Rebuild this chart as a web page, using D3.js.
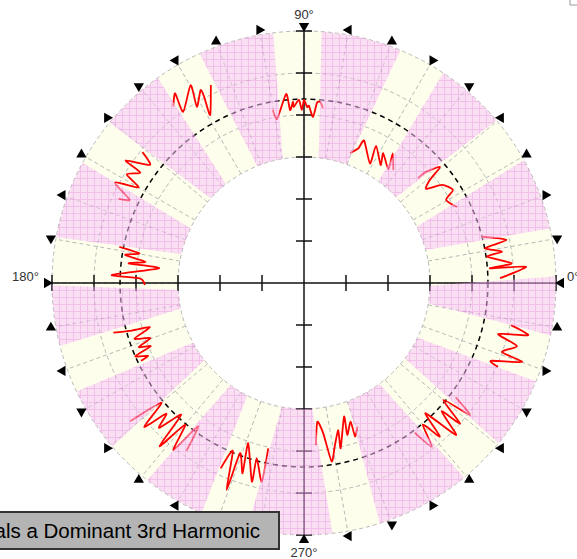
<!DOCTYPE html>
<html>
<head>
<meta charset="utf-8">
<script src="https://cdn.jsdelivr.net/npm/d3@7"></script>
<style>
  html, body { margin: 0; padding: 0; background: #fff; overflow: hidden; }
  svg { display: block; font-family: Arial, "Liberation Sans", sans-serif; }
</style>
</head>
<body>
<svg id="chart" width="577" height="559"></svg>
<script>
// radial axis in chart units (one tick = 1 unit)
const radialTicks = [1, 2, 3, 4, 5, 6];
const ringInner = 3;
const ringOuter = 6;
const gridCircles = [3, 4, 5, 6];
const refRadius = 4.38;
const spokeAngles = d3.range(0, 360, 10);
const axisAngles = [0, 90, 180, 270];
const axisLabels = ['0°', '90°', '180°', '270°'];

// centre angle (deg, counter-clockwise from 0°) of each light strip
const stripCenters = [91.5, 62, 34.7, 7, -17.5, -45, -78, -108.5, -134, -160, 175, 146, 120];

// traces: [angle in deg, radius in units]
const trace0 = [[100.2,4.19],[99.3,3.96],[95.4,4.52],[94.6,4.13],[93.5,4.32],[93.3,4.20],[91.6,4.36],[90.7,4.12],[90.0,4.36],[89.0,4.19],[88.4,4.22],[86.9,3.96],[85.9,4.30],[84.9,4.33],[83.8,4.19]];
const trace1 = [[70.5,3.28],[68.0,3.46],[67.1,3.68],[61.1,3.25],[62.3,3.69],[57.0,3.35],[58.6,3.62],[53.4,3.37],[55.6,3.74],[51.7,3.43]];
const trace2 = [[42.6,3.69],[42.3,3.93],[40.5,4.26],[39.3,3.87],[37.6,3.67],[35.4,4.03],[32.0,4.18],[30.3,3.92],[26.4,4.07]];
const trace3 = [[14.6,4.37],[12.0,4.93],[10.9,4.39],[9.0,4.77],[8.2,4.41],[5.4,4.97],[4.5,4.44],[4.2,5.30],[1.4,4.67]];
const trace4 = [[-11.5,5.03],[-13.1,5.48],[-14.7,4.78],[-16.5,5.29],[-19.2,4.99],[-19.9,5.52],[-22.6,4.82],[-23.4,5.03]];
const trace5 = [[-37,4.52],[-38.5,5.05],[-40,4.33],[-42,5.0],[-43,4.48],[-45,5.12],[-47,4.24],[-48.5,4.88],[-50,4.40],[-52,4.95],[-53.5,4.43]];
const trace6 = [[-85.8,3.87],[-84.5,3.32],[-82.7,3.61],[-81.2,4.30],[-79.2,3.93],[-76.9,3.60],[-77.5,4.03],[-73.3,3.32],[-74.1,3.76],[-71.4,3.48],[-71.6,3.85],[-69.6,3.65]];
const trace7 = [[-114.2,4.84],[-113.0,4.34],[-110.5,5.26],[-110.6,4.33],[-107.9,4.76],[-109.2,4.04],[-104.7,4.89],[-105.1,4.32],[-102.0,4.84],[-102.2,4.03]];
const trace8 = [[-125,4.88],[-126.5,4.24],[-128,5.05],[-130,4.40],[-131.5,5.19],[-133,4.29],[-135,4.88],[-136.5,4.52],[-138,5.12],[-140,4.43],[-141.5,5.29]];
const trace9 = [[-165.4,4.69],[-164.6,4.30],[-164.0,3.81],[-161.8,4.25],[-160.3,3.88],[-158.8,4.22],[-157.6,3.95],[-156.5,4.38],[-155.0,4.10],[-154.5,4.30]];
const trace10 = [[168.9,4.48],[169.8,3.98],[171.1,4.31],[172.4,3.81],[173.6,4.20],[174.2,3.47],[177.6,4.58],[178.4,3.91],[180.7,3.79]];
const trace11 = [[141,4.95],[142.5,4.62],[145.5,5.15],[146,4.70],[148.5,4.95],[150,4.55],[152,5.10],[154.5,4.60],[155.5,4.85]];
const trace12 = [[126.5,5.23],[124.2,5.46],[125.2,4.99],[119.8,5.43],[121.3,4.91],[118.2,5.21],[118.2,5.03],[119.2,4.58],[115.2,5.21]];
const traces = [trace0, trace1, trace2, trace3, trace4, trace5, trace6, trace7, trace8, trace9, trace10, trace11, trace12];

const title = 'Polar Plot Reveals a Dominant 3rd Harmonic';

const cx = 304, cy = 283;
const r = d3.scaleLinear().domain([0, 6]).range([0, 252]);
const rad = d => d * Math.PI / 180;
const pt = (deg, rr) => [rr * Math.cos(rad(deg)), -rr * Math.sin(rad(deg))];

const svg = d3.select('#chart');
const defs = svg.append('defs');

const pat = defs.append('pattern')
  .attr('id', 'hatch').attr('width', 7).attr('height', 7)
  .attr('patternUnits', 'userSpaceOnUse');
pat.append('rect').attr('width', 7).attr('height', 7).attr('fill', '#f6c6f6');
pat.append('path').attr('d', 'M0,0.5H7M0.5,0V7')
  .attr('stroke', '#e98ce9').attr('stroke-width', 1);

const ringPath = d3.arc()({
  innerRadius: r(ringInner), outerRadius: r(ringOuter),
  startAngle: 0, endAngle: 2 * Math.PI
});

// light strip: wider in angle near the hole, narrower at the rim
function stripPoly(c) {
  const ho = 5.5, hi = 8.2;
  const sides = [1, -1].map(s => {
    const po = pt(c + s * ho, r(ringOuter)), pin = pt(c + s * hi, r(ringInner));
    const dx = po[0] - pin[0], dy = po[1] - pin[1];
    return [[pin[0] - dx * 0.2, pin[1] - dy * 0.2], [po[0] + dx * 0.2, po[1] + dy * 0.2]];
  });
  return [sides[0][0], sides[0][1], sides[1][1], sides[1][0]];
}

const mask = defs.append('mask').attr('id', 'stripMask')
  .attr('maskUnits', 'userSpaceOnUse')
  .attr('x', -300).attr('y', -300).attr('width', 600).attr('height', 600);
mask.append('path').attr('d', ringPath).attr('fill', '#fff');
mask.selectAll('polygon').data(stripCenters).join('polygon')
  .attr('points', d => stripPoly(d).join(' '))
  .attr('fill', '#000');

const g = svg.append('g').attr('transform', `translate(${cx},${cy})`);

// ring base (light yellow)
g.append('path').attr('d', ringPath).attr('fill', '#fefeec');

// gray dashed grid
g.selectAll('circle.grid').data(gridCircles).join('circle')
  .attr('class', 'grid').attr('r', d => r(d))
  .attr('fill', 'none').attr('stroke', '#b8b8b8').attr('stroke-dasharray', '4,3');
g.selectAll('line.spoke').data(spokeAngles).join('line')
  .attr('class', 'spoke')
  .attr('x1', d => pt(d, r(ringInner))[0]).attr('y1', d => pt(d, r(ringInner))[1])
  .attr('x2', d => pt(d, r(ringOuter))[0]).attr('y2', d => pt(d, r(ringOuter))[1])
  .attr('stroke', '#b8b8b8').attr('stroke-dasharray', '4,3');

// cross axes with ticks
const axes = g.append('g').attr('stroke', '#111').attr('stroke-width', 1.5);
axes.append('line').attr('x1', -r(6)).attr('x2', r(6)).attr('y1', 0).attr('y2', 0);
axes.append('line').attr('y1', -r(6)).attr('y2', r(6)).attr('x1', 0).attr('x2', 0);
axisAngles.forEach(a => {
  axes.selectAll(null).data(radialTicks).join('line')
    .attr('x1', d => pt(a, r(d))[0] + 8 * Math.sin(rad(a)))
    .attr('y1', d => pt(a, r(d))[1] + 8 * Math.cos(rad(a)))
    .attr('x2', d => pt(a, r(d))[0] - 8 * Math.sin(rad(a)))
    .attr('y2', d => pt(a, r(d))[1] - 8 * Math.cos(rad(a)));
});

// reference circle
g.append('circle').attr('r', r(refRadius))
  .attr('fill', 'none').attr('stroke', '#000').attr('stroke-width', 1.5)
  .attr('stroke-dasharray', '5,4');

// red traces
const line = d3.lineRadial()
  .angle(d => rad(90 - d[0]))
  .radius(d => r(d[1]))
  .curve(d3.curveCardinal.tension(0.35));
g.selectAll('path.trace').data(traces).join('path')
  .attr('class', 'trace').attr('d', line)
  .attr('fill', 'none').attr('stroke', '#ff0000').attr('stroke-width', 1.8);

// pink hatched overlay outside the strips
g.append('path').attr('d', ringPath)
  .attr('fill', 'url(#hatch)').attr('opacity', 0.55)
  .attr('mask', 'url(#stripMask)');

// angle markers
const tri = d3.symbol().type(d3.symbolTriangle).size(46)();
g.selectAll('path.mark').data(spokeAngles).join('path')
  .attr('class', 'mark').attr('d', tri).attr('fill', '#000')
  .attr('transform', d => {
    const p = pt(d, r(ringOuter) + 5);
    return `translate(${p[0]},${p[1]}) rotate(${3 * d - 90})`;
  });

// angle labels
const lab = svg.append('g').attr('font-size', 13).attr('fill', '#333');
lab.append('text').attr('x', cx).attr('y', 19).attr('text-anchor', 'middle').text(axisLabels[1]);
lab.append('text').attr('x', cx).attr('y', 557).attr('text-anchor', 'middle').text(axisLabels[3]);
lab.append('text').attr('x', 39).attr('y', 281).attr('text-anchor', 'end').text(axisLabels[2]);
lab.append('text').attr('x', 567).attr('y', 281).attr('text-anchor', 'start').text(axisLabels[0]);

// corner mark
svg.append('path').attr('d', 'M570,0V5H577').attr('fill', 'none').attr('stroke', '#999');

// title box
svg.append('rect').attr('x', -10).attr('y', 512).attr('width', 289).attr('height', 37)
  .attr('fill', '#b4b4b4').attr('stroke', '#333').attr('stroke-width', 2);
svg.append('text').attr('x', 260).attr('y', 538).attr('text-anchor', 'end')
  .attr('font-size', 20.5).attr('fill', '#000').text(title);
</script>
</body>
</html>
